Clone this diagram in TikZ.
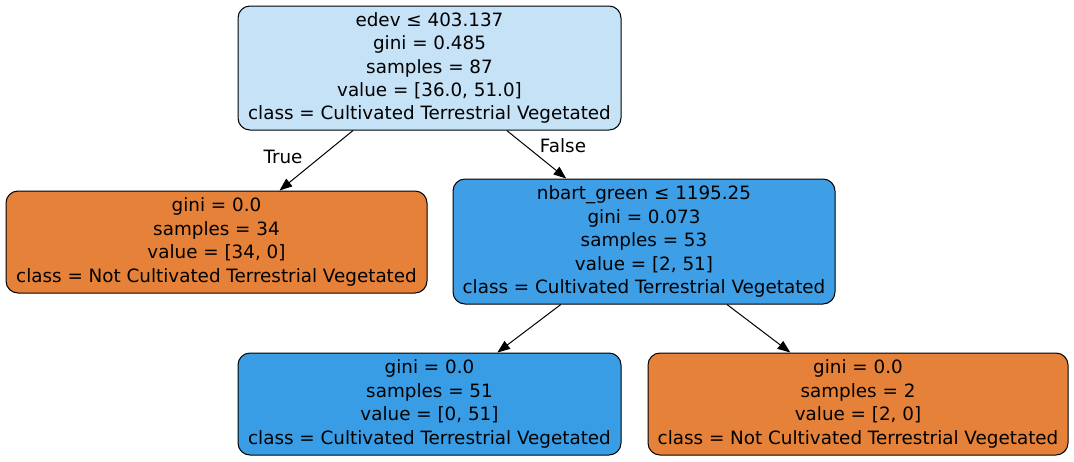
\documentclass[tikz,border=0pt]{standalone}
\usepackage{fontspec}
\setmainfont{DejaVu Sans}
\usetikzlibrary{arrows.meta}
\definecolor{rootblue}{HTML}{C5E2F7}
\definecolor{midblue}{HTML}{3E9FE6}
\definecolor{leafblue}{HTML}{399DE5}
\definecolor{leaforange}{HTML}{E58139}
\tikzset{
  treenode/.style={draw=black, line width=0.75pt, rounded corners=9pt, align=center, inner sep=0pt,
    font=\fontsize{13.75}{17.6}\selectfont},
  treeedge/.style={draw=black, line width=0.75pt, -{Triangle[length=9.5pt,width=7.2pt]}},
  edgelabel/.style={font=\fontsize{13.75}{17.6}\selectfont, inner sep=0pt}
}
\begin{document}
\begin{tikzpicture}[x=0.75pt,y=-0.75pt]
\useasboundingbox (0,0) rectangle (1074,461);
\node[treenode, fill=rootblue, minimum width=383*0.75pt, minimum height=124*0.75pt] (root) at (429.5,68)
  {edev ≤ 403.137\\gini = 0.485\\samples = 87\\value = [36.0, 51.0]\\class = Cultivated Terrestrial Vegetated};
\node[treenode, fill=leaforange, minimum width=421*0.75pt, minimum height=102*0.75pt] (left) at (216.5,242)
  {gini = 0.0\\samples = 34\\value = [34, 0]\\class = Not Cultivated Terrestrial Vegetated};
\node[treenode, fill=midblue, minimum width=382*0.75pt, minimum height=125*0.75pt] (right) at (644,241.5)
  {nbart\_green ≤ 1195.25\\gini = 0.073\\samples = 53\\value = [2, 51]\\class = Cultivated Terrestrial Vegetated};
\node[treenode, fill=leafblue, minimum width=383*0.75pt, minimum height=102*0.75pt] (bl) at (429.5,404)
  {gini = 0.0\\samples = 51\\value = [0, 51]\\class = Cultivated Terrestrial Vegetated};
\node[treenode, fill=leaforange, minimum width=420*0.75pt, minimum height=102*0.75pt] (br) at (858,404)
  {gini = 0.0\\samples = 2\\value = [2, 0]\\class = Not Cultivated Terrestrial Vegetated};
\draw[treeedge] (root) -- (left);
\draw[treeedge] (root) -- (right);
\draw[treeedge] (right) -- (bl);
\draw[treeedge] (right) -- (br);
\node[edgelabel] (lbltrue) at (283,157) {True};
\node[edgelabel] (lblfalse) at (563,146) {False};
\end{tikzpicture}
\end{document}
